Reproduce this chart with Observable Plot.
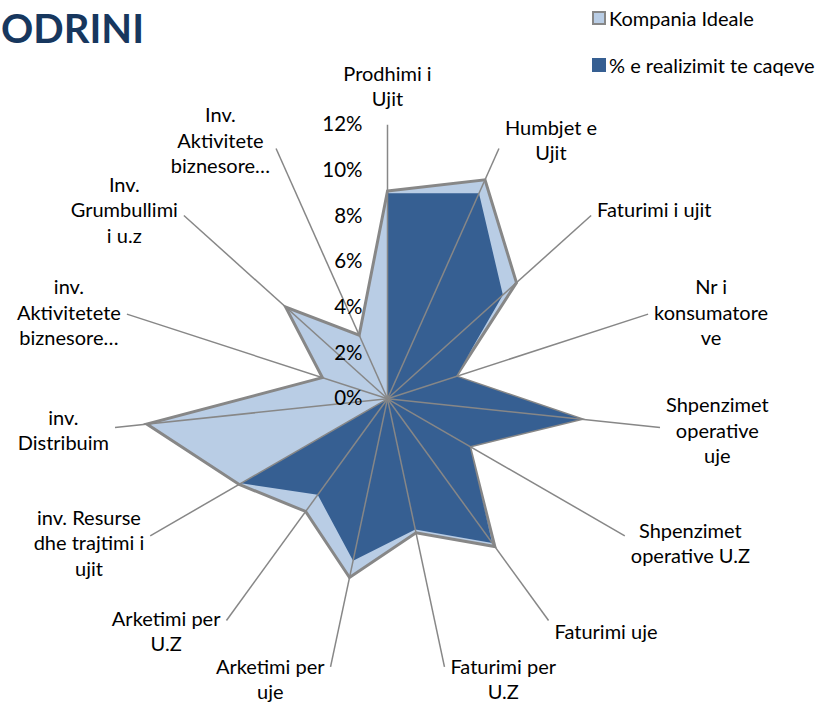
<!DOCTYPE html>
<html>
<head>
<meta charset="utf-8">
<script src="https://cdn.jsdelivr.net/npm/d3@7"></script>
<script src="https://cdn.jsdelivr.net/npm/@observablehq/plot@0.6"></script>
<style>
html, body { margin: 0; padding: 0; background: #fff; }
body { width: 817px; height: 703px; position: relative; overflow: hidden; font-family: Lato, "Open Sans", sans-serif; }
#chart { position: absolute; left: 0; top: 0; }
#title { position: absolute; left: 1px; top: 7px; font: bold 40px/42px Lato, sans-serif; color: #17375E; white-space: nowrap; }
.lg { position: absolute; left: 592px; display: flex; align-items: center; font: 20px Lato, sans-serif; color: #000; white-space: nowrap; }
.sw { width: 10px; height: 10px; margin-right: 3px; box-sizing: content-box; }
</style>
</head>
<body>
<div id="chart"></div>
<div id="title">ODRINI</div>
<div id="legend"></div>
<script>
// ---- data ----
const categories = [
  "Prodhimi i\nUjit",
  "Humbjet e\nUjit",
  "Faturimi i ujit",
  "Nr i\nkonsumatore\nve",
  "Shpenzimet\noperative\nuje",
  "Shpenzimet\noperative U.Z",
  "Faturimi uje",
  "Faturimi per\nU.Z",
  "Arketimi per\nuje",
  "Arketimi per\nU.Z",
  "inv. Resurse\ndhe trajtimi i\nujit",
  "inv.\nDistribuim",
  "inv.\nAktivitetete\nbiznesore…",
  "Inv.\nGrumbullimi\ni u.z",
  "Inv.\nAktivitete\nbiznesore…"
];
const seriesNames = ["Kompania Ideale", "% e realizimit te caqeve"];
const idealValues  = [9.1, 10.5, 7.6, 3.15, 8.5, 4.15, 8.0, 6.0, 8.0, 6.1, 7.5, 10.6, 3.0, 6.0, 3.05];
const actualValues = [9.0, 9.85, 6.8, 3.15, 8.5, 4.15, 7.8, 5.85, 7.25, 5.2, 7.4, 0, 0, 0, 0];
const tickValues = [0, 2, 4, 6, 8, 10, 12];
const axisMax = 12;

// ---- layout ----
const W = 817, H = 703;
const cx = 387, cy = 398.3;
const k = 274 / axisMax;          // px per percentage point
const labelFont = 20;
const lineH = 1.27;
const colIdeal = "#B9CDE5", colActual = "#365F92", colGrid = "#878787";

const n = categories.length;
const ang = i => i * 2 * Math.PI / n;
const pt = (v, i) => ({x: v * Math.sin(ang(i)), y: v * Math.cos(ang(i))});

const idealPts = idealValues.map((v, i) => pt(v, i));
const actualPts = actualValues.map((v, i) => pt(v, i));
const spokes = categories.map((c, i) => pt(axisMax, i));

const ctx = document.createElement("canvas").getContext("2d");
ctx.font = `${labelFont}px Lato`;
const labels = categories.map((c, i) => {
  const lines = c.split("\n");
  const w = Math.max(...lines.map(l => ctx.measureText(l).width));
  const h = lines.length * lineH * labelFont;
  const s = Math.sin(ang(i)), co = Math.cos(ang(i));
  const e = pt(axisMax, i);
  let lx, ly;
  if (Math.abs(s) < 0.2) {
    lx = e.x;
    ly = e.y + Math.sign(co) * (h / 2 + 14) / k;
  } else {
    lx = e.x + Math.sign(s) * (w / 2 + 6) / k;
    ly = e.y + (co * 11 - 1) / k;
  }
  return {x: lx, y: ly, label: c};
});

const chart = Plot.plot({
  width: W, height: H, margin: 0,
  x: {domain: [-cx / k, (W - cx) / k], axis: null},
  y: {domain: [-(H - cy) / k, cy / k], axis: null},
  style: {fontFamily: "Lato, sans-serif", background: "white", color: "#000"},
  marks: [
    Plot.line(idealPts, {x: "x", y: "y", curve: "linear-closed", fill: colIdeal, stroke: colGrid, strokeWidth: 3, strokeLinejoin: "miter", strokeMiterlimit: 4}),
    Plot.line(actualPts, {x: "x", y: "y", curve: "linear-closed", fill: colActual, stroke: "none"}),
    Plot.link(spokes, {x1: () => 0, y1: () => 0, x2: "x", y2: "y", stroke: colGrid, strokeWidth: 1.5}),
    Plot.text(tickValues, {x: () => 0, y: d => d, text: d => d + "%", textAnchor: "end", dx: -25, fontSize: 20.5, fill: "#000"}),
    Plot.text(labels, {x: "x", y: "y", text: "label", fontSize: labelFont, lineHeight: lineH, lineAnchor: "middle", textAnchor: "middle", fill: "#000"})
  ]
});
document.getElementById("chart").appendChild(chart);

// legend
const legend = document.getElementById("legend");
const swatches = [
  {fill: colIdeal, border: "2px solid " + colGrid, top: 6},
  {fill: colActual, border: "2px solid " + colActual, top: 53}
];
seriesNames.forEach((name, i) => {
  const d = document.createElement("div");
  d.className = "lg";
  d.style.top = swatches[i].top + "px";
  const sw = document.createElement("span");
  sw.className = "sw";
  sw.style.background = swatches[i].fill;
  sw.style.border = swatches[i].border;
  d.appendChild(sw);
  d.appendChild(document.createTextNode(name));
  legend.appendChild(d);
});
</script>
</body>
</html>
